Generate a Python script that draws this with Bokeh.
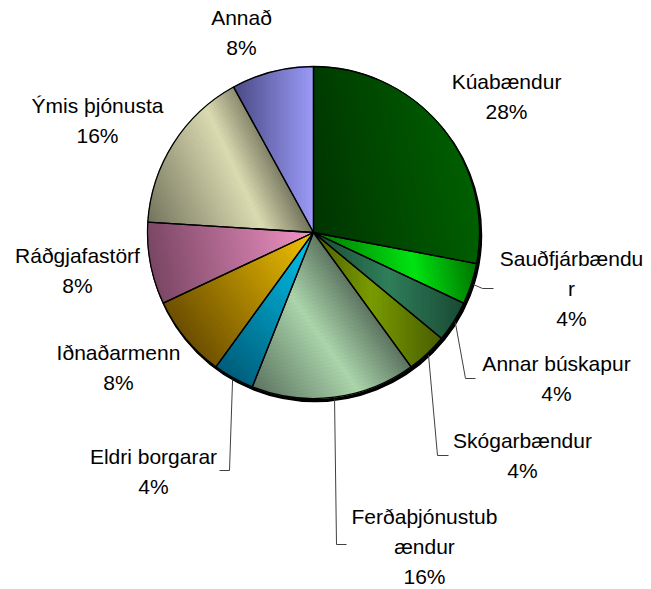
import numpy as np
from bokeh.plotting import figure
from bokeh.models import Range1d
from bokeh.embed import file_html
from bokeh.resources import INLINE
from bokeh.core.properties import value

# ---- data ----
categories = ["Kúabændur", "Sauðfjárbændur", "Annar búskapur", "Skógarbændur",
              "Ferðaþjónustubændur", "Eldri borgarar", "Iðnaðarmenn",
              "Ráðgjafastörf", "Ýmis þjónusta", "Annað"]
counts = [7, 1, 1, 1, 4, 1, 2, 2, 4, 2]
label_lines = [["Kúabændur"], ["Sauðfjárbændu", "r"], ["Annar búskapur"],
               ["Skógarbændur"], ["Ferðaþjónustub", "ændur"], ["Eldri borgarar"],
               ["Iðnaðarmenn"], ["Ráðgjafastörf"], ["Ýmis þjónusta"], ["Annað"]]
dark_colors = ["#003400", "#007400", "#1a4a34", "#4a5e00", "#5c7460",
               "#005c7a", "#6c4e00", "#7a4664", "#74745e", "#4a4a86"]
light_colors = ["#006000", "#00e412", "#307f5b", "#7a9c00", "#acd6ac",
                "#00c8f0", "#f4c400", "#f294c6", "#dcdcb2", "#9c9cfa"]
# gradient style per slice: (direction in degrees, mode, peak)
grad_style = [(10, "lin", 1.0), (10, "mid", 0.6), (0, "mid", 0.5), (0, "mid", 0.45),
              (35, "mid", 0.6), (45, "lin", 1.0), (35, "lin", 1.0), (10, "lin", 1.0),
              (25, "mid", 0.7), (0, "lin", 1.0)]

# ---- layout (image pixel coordinates) ----
W, H = 651, 589
cx_img, cy_img, R = 313, 232, 166
label_x = [506, 571, 556, 522, 424, 153, 118, 77, 97, 241]
label_y0 = [88, 265, 370, 447, 523, 463, 359, 262, 112, 24]
line_gap = 30
text_shift = 7
leaders = [None, (482, 288, 493), (465, 378, 475), (437, 455, 448),
           (336, 544, 346), (229, 470, 219), None, None, None, None]


def dx(x):
    return x


def dy(y):
    return H - y


def hex2rgb(h):
    return np.array([int(h[i:i + 2], 16) for i in (1, 3, 5)], dtype=float)


def mix(c1, c2, t):
    c = hex2rgb(c1) * (1 - t) + hex2rgb(c2) * t
    return "#%02x%02x%02x" % tuple(int(round(v)) for v in c)


def clip(poly, u0, u1):
    def clip_half(pts, keep, inter):
        out = []
        n = len(pts)
        for k in range(n):
            a, b = pts[k], pts[(k + 1) % n]
            ka, kb = keep(a), keep(b)
            if ka:
                out.append(a)
            if ka != kb:
                out.append(inter(a, b))
        return out

    def inter_at(uc):
        def f(a, b):
            t = (uc - a[0]) / (b[0] - a[0])
            return (uc, a[1] + t * (b[1] - a[1]))
        return f

    pts = clip_half(poly, lambda q: q[0] >= u0, inter_at(u0))
    if not pts:
        return pts
    pts = clip_half(pts, lambda q: q[0] <= u1, inter_at(u1))
    return pts


p = figure(width=W, height=H, output_backend="svg", toolbar_location=None,
           x_range=Range1d(0, W), y_range=Range1d(0, H),
           x_axis_location=None, y_axis_location=None, min_border=0)
p.grid.visible = False
p.outline_line_color = None
p.background_fill_color = "white"
p.border_fill_color = "white"

total = sum(counts)
frac = np.array(counts) / total
cum = np.concatenate([[0], np.cumsum(frac)])
a_start = np.pi / 2 - cum[:-1] * 2 * np.pi
a_end = np.pi / 2 - cum[1:] * 2 * np.pi

cx, cy = dx(cx_img), dy(cy_img)

# shadow edge
p.circle(x=[cx + 1.5], y=[cy - 2.5], radius=R + 0.5, fill_color="black",
         line_color="black", line_width=1.5)

# gradient fills
gx, gy, gc = [], [], []
for i in range(len(counts)):
    th = np.deg2rad(grad_style[i][0])
    mode, peak = grad_style[i][1], grad_style[i][2]
    ang = np.linspace(a_start[i], a_end[i], 80)
    px = np.concatenate([[0.0], R * np.cos(ang)])
    py = np.concatenate([[0.0], R * np.sin(ang)])
    u = px * np.cos(th) + py * np.sin(th)
    v = -px * np.sin(th) + py * np.cos(th)
    poly = list(zip(u, v))
    umin, umax = u.min(), u.max()
    nstrip = 60
    edges = np.linspace(umin, umax, nstrip + 1)
    for s in range(nstrip):
        pts = clip(poly, edges[s], edges[s + 1])
        if len(pts) < 3:
            continue
        t = (s + 0.5) / nstrip
        if mode == "lin":
            col = mix(dark_colors[i], light_colors[i], t)
        else:
            if t < peak:
                col = mix(dark_colors[i], light_colors[i], t / peak)
            else:
                col = mix(light_colors[i], dark_colors[i], (t - peak) / (1 - peak))
        uu = np.array([q[0] for q in pts])
        vv = np.array([q[1] for q in pts])
        gx.append(list(cx + uu * np.cos(th) - vv * np.sin(th)))
        gy.append(list(cy + uu * np.sin(th) + vv * np.cos(th)))
        gc.append(col)
p.patches(xs=gx, ys=gy, fill_color=gc, line_color=gc, line_width=1.0)

# slices (outlines)
p.wedge(x=cx, y=cy, radius=R, start_angle=list(a_end), end_angle=list(a_start),
        direction="anticlock", fill_color=None, line_color="black", line_width=1.3)

# leaders
for i, ld in enumerate(leaders):
    if ld is None:
        continue
    mid = (a_start[i] + a_end[i]) / 2
    sx = cx + (R + 2) * np.cos(mid)
    sy = cy + (R + 2) * np.sin(mid)
    ex, ey, hx = ld
    p.line(x=[sx, dx(ex), dx(hx)], y=[sy, dy(ey), dy(ey)], line_color="#404040",
           line_width=1)

# labels
for i, lines in enumerate(label_lines):
    pct = f"{round(frac[i] * 100):d}%"
    all_lines = lines + [pct]
    xs = [dx(label_x[i])] * len(all_lines)
    ys = [dy(label_y0[i] - text_shift + k * line_gap) for k in range(len(all_lines))]
    p.text(x=xs, y=ys, text=all_lines, text_align="center",
           text_baseline="alphabetic", text_font=value("Liberation Sans"),
           text_font_size="21px", text_color="black")

open("out.html", "w").write(file_html(p, INLINE))
